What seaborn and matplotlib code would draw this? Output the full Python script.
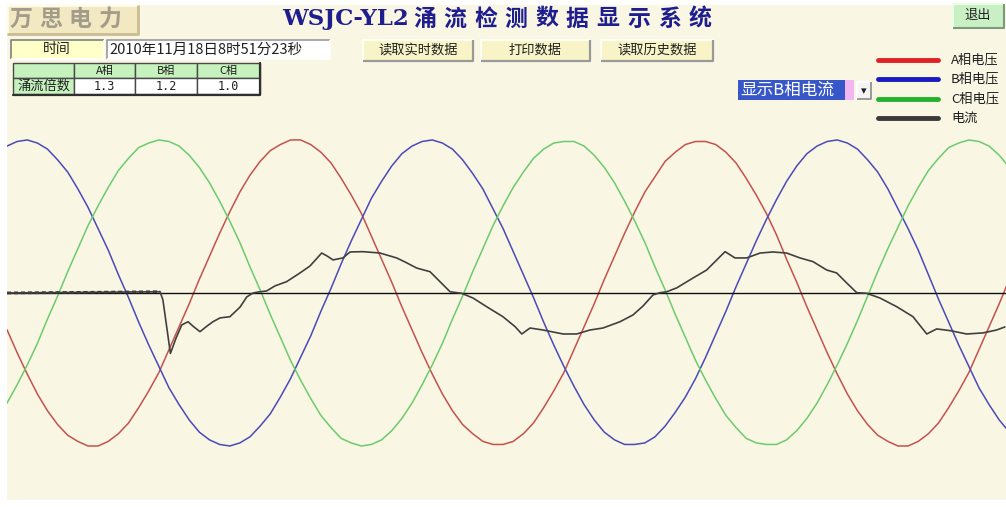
import matplotlib
matplotlib.use("Agg")
import matplotlib.pyplot as plt
from matplotlib.patches import Rectangle
import pandas as pd
import seaborn as sns

# ---- recorded samples -------------------------------------------------
# sample time, ms (0.5 ms step)
t_ms = [k * 0.5 for k in range(101)]

# phase voltages, % of rated peak
volt_a = [-24, -39, -53, -66, -77, -86, -93, -97, -100, -100, -97, -92, -85, -75, -64, -52, -37, -22, -7, 9,
          24, 39, 53, 66, 77, 86, 93, 97, 100, 100, 97, 92, 85, 75, 64, 52, 37, 22, 7, -9,
          -24, -39, -53, -66, -77, -86, -92, -97, -99, -99, -97, -92, -85, -75, -64, -52, -37, -22, -7, 9,
          24, 39, 53, 66, 76, 86, 92, 97, 99, 99, 97, 92, 85, 75, 64, 52, 38, 22, 7, -9,
          -24, -39, -53, -66, -77, -86, -93, -97, -100, -100, -97, -92, -85, -75, -64, -52, -37, -22, -7, 9,
          24]
volt_b = [96, 99, 100, 98, 94, 87, 79, 68, 56, 42, 28, 12, -3, -19, -34, -48, -62, -73, -83, -91,
          -96, -99, -100, -98, -94, -87, -79, -68, -56, -42, -28, -12, 3, 19, 34, 48, 62, 73, 83, 91,
          96, 99, 100, 98, 94, 87, 78, 68, 55, 42, 27, 12, -3, -19, -34, -48, -61, -73, -83, -91,
          -96, -99, -99, -98, -94, -87, -78, -68, -56, -42, -27, -12, 4, 19, 34, 48, 61, 73, 83, 91,
          96, 99, 100, 98, 94, 87, 79, 68, 55, 42, 28, 12, -4, -19, -34, -48, -62, -73, -83, -91,
          -96]
volt_c = [-72, -60, -47, -33, -17, -2, 14, 29, 44, 57, 69, 80, 88, 95, 98, 100, 99, 96, 90, 82,
          72, 60, 47, 33, 17, 2, -14, -29, -44, -57, -69, -80, -88, -95, -98, -100, -99, -96, -90, -82,
          -72, -60, -47, -33, -17, -2, 14, 29, 44, 57, 69, 79, 88, 94, 98, 99, 99, 96, 90, 82,
          72, 60, 47, 33, 17, 2, -14, -29, -44, -57, -69, -80, -88, -95, -98, -99, -99, -96, -90, -82,
          -72, -60, -47, -33, -18, -2, 14, 29, 43, 57, 69, 80, 88, 95, 98, 100, 99, 96, 90, 82,
          72]

# phase-B inrush current (same scale), sample time in ms
cur_t = [0.0, 7.56, 7.70, 8.07, 8.35, 8.63, 8.94, 9.23, 9.53, 9.88, 10.17, 10.52, 11.01, 11.51,
         11.84, 12.15, 12.49, 12.82, 13.23, 13.81, 14.47, 14.96, 15.54, 15.80, 16.10, 16.59,
         16.94, 17.58, 18.42, 19.24, 19.65, 20.23, 20.89, 21.38, 21.88, 22.45, 23.01, 23.69,
         24.49, 25.09, 25.42, 25.83, 26.47, 27.46, 28.13, 28.79, 29.43, 30.27, 30.91, 31.41,
         31.90, 32.25, 32.58, 33.07, 33.88, 34.55, 35.05, 35.46, 35.95, 36.53, 37.19, 37.83,
         38.50, 39.16, 39.80, 40.48, 40.97, 41.47, 41.96, 42.45, 43.11, 43.94, 44.74, 45.42,
         45.91, 46.57, 47.39, 48.20, 48.87, 49.28]
cur_b = [0.0, 0.8, -4.6, -39.5, -29.4, -20.9, -18.8, -22.2, -25.3, -21.6, -18.8, -16.3, -15.5, -9.2,
         -2.6, 0.0, 0.8, 1.3, 4.6, 7.4, 13.1, 17.6, 26.1, 24.2, 21.6, 22.9,
         26.8, 27.0, 26.1, 22.9, 20.3, 16.3, 13.9, 7.4, 0.8, -0.2, -3.3, -9.0,
         -15.5, -22.0, -26.8, -22.9, -24.2, -26.8, -26.8, -24.2, -22.9, -18.8, -14.4, -8.5,
         -1.3, 0.2, 0.8, 3.3, 9.8, 15.0, 21.6, 27.0, 22.9, 22.9, 26.1, 26.8,
         26.1, 22.9, 20.5, 15.0, 13.1, 6.5, 0.2, -0.2, -3.3, -9.0, -15.5, -26.8,
         -23.5, -24.6, -26.8, -26.1, -24.2, -22.2]

trigger_ms = 7.56

# surge ratio table
phase_names = ["A相", "B相", "C相"]
surge_ratio = ["1.3", "1.2", "1.0"]

legend_labels = ["A相电压", "B相电压", "C相电压", "电流"]
button_labels = ["读取实时数据", "打印数据", "读取历史数据"]

# ---- style -------------------------------------------------------------
sns.set_style("white")
plt.rcParams['font.family'] = ['Noto Sans CJK SC', 'DejaVu Sans']

CREAM = '#FAF6E4'
COL_A, COL_B, COL_C, COL_I = '#C4524C', '#4A4AB8', '#6CCB6C', '#404040'

W, H = 1006, 507
fig = plt.figure(figsize=(W / 100, H / 100), dpi=100, facecolor='white')

# waveform panel
ax = fig.add_axes([7 / W, 7 / H, 999 / W, 495 / H])
ax.set_facecolor(CREAM)
for s in ax.spines.values():
    s.set_visible(False)
ax.set_xticks([])
ax.set_yticks([])

volt = pd.DataFrame({"t": t_ms, "A": volt_a, "B": volt_b, "C": volt_c})
sns.lineplot(data=volt, x="t", y="A", color=COL_A, lw=1.1, ax=ax, estimator=None)
sns.lineplot(data=volt, x="t", y="B", color=COL_B, lw=1.1, ax=ax, estimator=None)
sns.lineplot(data=volt, x="t", y="C", color=COL_C, lw=1.1, ax=ax, estimator=None)

cur = pd.DataFrame({"t": cur_t, "i": cur_b})
ax.axhline(0, color='#101010', lw=1.0, zorder=3)
pre = cur[cur["t"] <= trigger_ms]
ax.plot(pre["t"], pre["i"], color='#303030', lw=2.0, ls=(0, (1.5, 1.0)), zorder=4)
sns.lineplot(data=cur, x="t", y="i", color=COL_I, lw=1.2, ax=ax, estimator=None, sort=False)
ax.lines[-1].set_zorder(5)

ax.set_xlim(0, 999 / 20.25)
ax.set_ylim(-135.3, 188.2)
ax.set_xlabel("")
ax.set_ylabel("")

# ---- interface elements, drawn in pixel space ---------------------------
ui = fig.add_axes([0, 0, 1, 1], zorder=10)
ui.set_xlim(0, W)
ui.set_ylim(H, 0)
ui.axis('off')
ui.patch.set_alpha(0)


def box(x0, y0, x1, y1, face, light='#FFFFFF', dark='#8C8C8C', lw=1.2, sunken=False):
    ui.add_patch(Rectangle((x0, y0), x1 - x0, y1 - y0, facecolor=face, edgecolor='none'))
    tl, br = (dark, light) if sunken else (light, dark)
    ui.plot([x0, x0, x1], [y1, y0, y0], color=tl, lw=lw, solid_capstyle='butt')
    ui.plot([x0, x1, x1], [y1, y1, y0], color=br, lw=lw, solid_capstyle='butt')


# logo
box(7, 5, 138, 34, '#F2E8C2', light='#FFFCEE', dark='#C9BC93', lw=2)
for k, ch in enumerate("万思电力"):
    ui.text(21 + 29.7 * k, 19, ch, fontsize=16.5, color='#A49C8A', ha='center', va='center',
            fontweight='bold')

# title: latin prefix then spaced characters
title_lat, title_cjk = "WSJC-YL2", "涌流检测数据显示系统"
ui.text(282, 19, title_lat, fontsize=16.5, color='#1E1E8E', ha='left', va='center',
        fontweight='bold', family=['DejaVu Serif'])
for k, ch in enumerate(title_cjk):
    ui.text(409 + 30.6 * (k + 0.5), 19, ch, fontsize=16.5, color='#1E1E8E', ha='center',
            va='center', fontweight='bold')

# exit button
box(953, 4, 1004, 28, '#C8F0C4', light='#E8FFE6', dark='#7E9A7C', lw=1.5)
ui.text(978, 15, "退出", fontsize=9.5, ha='center', va='center', color='#202020')

# time row
box(11, 40, 104, 59, '#FFFFC8', light='#FFFFFF', dark='#808080', sunken=True)
ui.text(57, 49, "时间", fontsize=10, ha='center', va='center', color='#202020')
box(107, 40, 330, 59, '#FFFFFF', light='#FFFFFF', dark='#9A9A9A', sunken=True)
ui.text(109, 49.5, "2010年11月18日8时51分23秒", fontsize=10.5, ha='left', va='center',
        color='#202020')

# buttons
for lab, (x0, x1) in zip(button_labels, [(363, 473), (481, 590), (601, 713)]):
    box(x0, 40, x1, 61, '#F8F4C8', light='#FFFFF2', dark='#9A9A9A', lw=1.6)
    ui.text((x0 + x1) / 2, 50, lab, fontsize=9.5, ha='center', va='center', color='#202020')

# surge ratio table
cx = [13, 74, 135, 197, 260]
ry = [63, 78, 94]
GREEN = '#C6F2BE'
for c in range(4):
    ui.add_patch(Rectangle((cx[c], ry[0]), cx[c + 1] - cx[c], ry[1] - ry[0],
                           facecolor=GREEN, edgecolor='#4A4A4A', lw=1))
    face = GREEN if c == 0 else '#FFFFFF'
    ui.add_patch(Rectangle((cx[c], ry[1]), cx[c + 1] - cx[c], ry[2] - ry[1],
                           facecolor=face, edgecolor='#4A4A4A', lw=1))
ui.plot([cx[0], cx[-1], cx[-1]], [ry[2] + 1, ry[2] + 1, ry[0]], color='#303030', lw=1.6)
for c, name in enumerate(phase_names):
    xm = (cx[c + 1] + cx[c + 2]) / 2
    ui.text(xm, 71, name, fontsize=8, ha='center', va='center', color='#202020')
    ui.text(xm, 86.5, surge_ratio[c], fontsize=8.5, ha='center', va='center', color='#202020',
            family=['DejaVu Sans Mono'])
ui.text((cx[0] + cx[1]) / 2, 86.5, "涌流倍数", fontsize=9.5, ha='center', va='center',
        color='#202020')

# channel selector
ui.add_patch(Rectangle((738, 80), 107, 20, facecolor='#3757C9', edgecolor='none'))
ui.add_patch(Rectangle((845, 80), 9, 20, facecolor='#F2B6F2', edgecolor='none'))
box(857, 82, 871, 99, '#F4F4F4', light='#FFFFFF', dark='#8A8A8A')
ui.text(864, 91, "▾", fontsize=8, ha='center', va='center', color='#202020',
        family=['DejaVu Sans'])
ui.text(740, 90.5, "显示B相电流", fontsize=12, ha='left', va='center', color='#FFFFFF')

# legend
for (yy, col, lab) in zip([60, 79, 99, 118], ['#E02222', '#1A1AC4', '#22B22C', '#3A3A3A'],
                          legend_labels):
    ui.plot([878, 938], [yy, yy], color=col, lw=3.5, solid_capstyle='round')
    ui.text(951, yy, lab, fontsize=9.5, ha='left', va='center', color='#202020')

fig.savefig("out.png", dpi=100, facecolor='white')
